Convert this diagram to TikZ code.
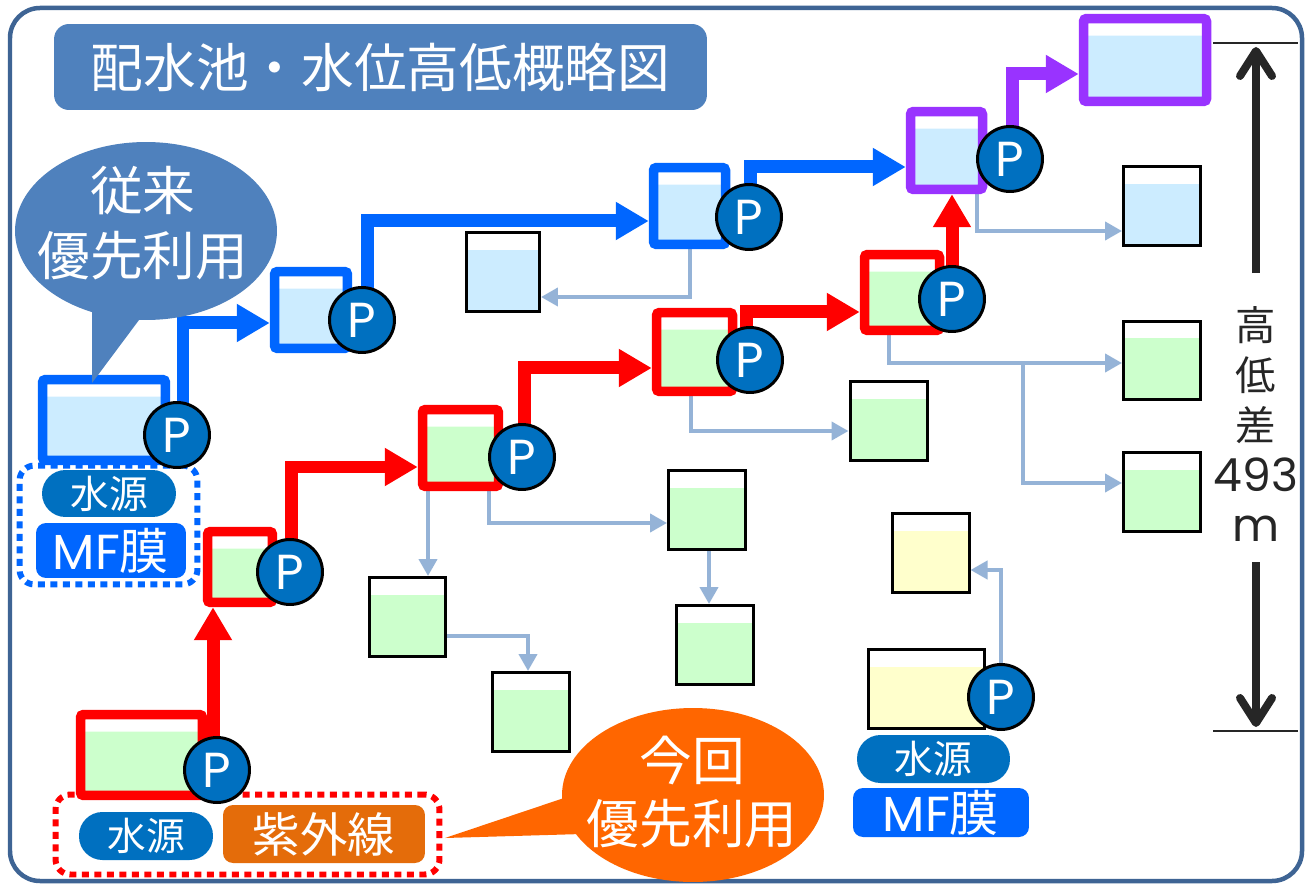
\documentclass[tikz,border=0pt]{standalone}
\usepackage{fontspec}
\setmainfont{Noto Sans CJK JP}
\newfontfamily\latf{Poppins}
\usetikzlibrary{arrows.meta,shapes.geometric}
\definecolor{frameC}{HTML}{3E6494}
\definecolor{titleC}{HTML}{4F81BD}
\definecolor{blueC}{HTML}{0066FF}
\definecolor{redC}{HTML}{FF0000}
\definecolor{purpC}{HTML}{9933FF}
\definecolor{pumpC}{HTML}{0070C0}
\definecolor{lbC}{HTML}{CCECFF}
\definecolor{lgC}{HTML}{CCFFCC}
\definecolor{lyC}{HTML}{FFFFCC}
\definecolor{thinC}{HTML}{95B3D7}
\definecolor{orC}{HTML}{FF6600}
\definecolor{uvC}{HTML}{E46C0A}
\definecolor{dimC}{HTML}{262626}
\pgfdeclarelayer{bg}
\pgfsetlayers{bg,main}
\begin{document}
\begin{tikzpicture}[x=0.02cm,y=-0.02cm,
  band/.style={path picture={\fill[white] (path picture bounding box.north west) rectangle ([yshift=-0.34cm]path picture bounding box.north east);}},
  bigtank/.style={draw=#1, line width=0.19cm, rounded corners=0.06cm, band, inner sep=0pt},
  smalltank/.style={draw=black, line width=0.06cm, band, inner sep=0pt, minimum width=1.54cm, minimum height=1.58cm},
  pump/.style={circle, fill=pumpC, draw=black, line width=0.06cm, minimum size=1.3cm, inner sep=0pt, text=white, font=\latf\fontsize{28}{28}\selectfont},
  fat/.style={line width=0.26cm, draw=#1, -{Triangle[length=0.66cm,width=0.72cm]}},
  slim/.style={draw=thinC, line width=0.08cm, -{Triangle[length=0.34cm,width=0.36cm]}},
  pill/.style={fill=pumpC, rounded corners=0.47cm, text=white, inner sep=0pt, font=\fontsize{22}{22}\selectfont},
  srcbox/.style={rounded corners=0.2cm, text=white, inner sep=0pt},
  dotbox/.style={draw=#1, line width=0.12cm, dash pattern=on 0.14cm off 0.11cm, rounded corners=0.3cm, inner sep=0pt},
  bubtext/.style={text=white, align=center},
  dimline/.style={draw=dimC, line width=0.04cm},
  dimarrow/.style={draw=dimC, line width=0.16cm, -{Straight Barb[length=0.5cm,width=0.64cm,round]}},
]
\useasboundingbox (0,0) rectangle (1308,885);
% frame
\draw[frameC, line width=0.09cm, rounded corners=0.6cm] (10,8) rectangle (1302,881);
% title
\node[fill=titleC, rounded corners=0.3cm, minimum width=13.06cm, minimum height=1.72cm, text=white, font=\fontsize{30}{36}\selectfont, inner sep=0pt] (title) at (380.5,67) {配水池・水位高低概略図};

% big tanks
\node[bigtank=blueC, fill=lbC, minimum width=2.46cm, minimum height=1.62cm] (B1) at (104,420) {};
\node[bigtank=blueC, fill=lbC, minimum width=1.46cm, minimum height=1.54cm] (B2) at (311,310) {};
\node[bigtank=blueC, fill=lbC, minimum width=1.44cm, minimum height=1.54cm] (B3) at (689.5,206) {};
\node[bigtank=purpC, fill=lbC, minimum width=1.44cm, minimum height=1.56cm] (P4) at (946.5,150.5) {};
\node[bigtank=purpC, fill=lbC, minimum width=2.46cm, minimum height=1.66cm] (TOP) at (1145,60) {};
\node[bigtank=redC, fill=lgC, minimum width=2.44cm, minimum height=1.62cm] (R0) at (141.5,755) {};
\node[bigtank=redC, fill=lgC, minimum width=1.30cm, minimum height=1.42cm] (R1) at (240,567) {};
\node[bigtank=redC, fill=lgC, minimum width=1.52cm, minimum height=1.54cm] (R2) at (460.5,448) {};
\node[bigtank=redC, fill=lgC, minimum width=1.52cm, minimum height=1.58cm] (R3) at (694.5,352) {};
\node[bigtank=redC, fill=lgC, minimum width=1.50cm, minimum height=1.52cm] (R4) at (902,292.5) {};

% small tanks
\node[smalltank, fill=lbC, minimum width=1.46cm] (TB1) at (503,272) {};
\node[smalltank, fill=lbC] (TB2) at (1162,206) {};
\node[smalltank, fill=lgC] (G1) at (888.5,421) {};
\node[smalltank, fill=lgC] (G2) at (1162,360.5) {};
\node[smalltank, fill=lgC] (G3) at (1162,492) {};
\node[smalltank, fill=lgC] (G4) at (407.5,617) {};
\node[smalltank, fill=lgC] (G5) at (531,712) {};
\node[smalltank, fill=lgC] (G6) at (707,510) {};
\node[smalltank, fill=lgC] (G7) at (714.5,645) {};
\node[smalltank, fill=lyC] (Y1) at (930.5,553) {};
\node[smalltank, fill=lyC, minimum width=2.32cm] (Y0) at (926.5,689) {};

% source labels
\node[dotbox=blueC, minimum width=3.56cm, minimum height=2.38cm] (bsrc) at (108.5,525) {};
\node[pill, minimum width=2.68cm, minimum height=0.94cm] (bw) at (109,493.5) {水源};
\node[srcbox, fill=blueC, minimum width=3.0cm, minimum height=1.1cm, font=\fontsize{28}{28}\selectfont] (bmf) at (111,550.5) {{\latf MF}膜};
\node[dotbox=redC, minimum width=7.68cm, minimum height=1.6cm] (rsrc) at (247.5,834.5) {};
\node[pill, minimum width=2.68cm, minimum height=0.96cm] (rw) at (146,836) {水源};
\node[srcbox, fill=uvC, minimum width=4.04cm, minimum height=1.16cm, font=\fontsize{27}{27}\selectfont] (ruv) at (324,834) {紫外線};
\node[pill, minimum width=3.06cm, minimum height=0.96cm] (yw) at (933.5,759) {水源};
\node[srcbox, fill=blueC, minimum width=3.52cm, minimum height=0.98cm, font=\fontsize{28}{28}\selectfont] (ymf) at (941,812.5) {{\latf MF}膜};

% bubbles
\node[ellipse, fill=titleC, minimum width=5.24cm, minimum height=3.56cm, inner sep=0pt] (bub1) at (146,231) {};
\fill[titleC] (92,300) -- (92,383) -- (142,316) -- cycle;
\node[bubtext, font=\fontsize{30}{37}\selectfont] (bub1t) at (143,223) {従来\\優先利用};
\node[ellipse, fill=orC, minimum width=5.24cm, minimum height=3.48cm, inner sep=0pt] (bub2) at (693,795) {};
\fill[orC] (570,796) -- (445,838) -- (582,834) -- cycle;
\node[bubtext, font=\fontsize{30}{36}\selectfont] (bub2t) at (692,792) {今回\\優先利用};

% pumps
\node[pump] (PB1) at (177,435) {P};
\node[pump] (PB2) at (362,320) {P};
\node[pump] (PB3) at (749,217) {P};
\node[pump] (PP4) at (1010,159) {P};
\node[pump] (PR0) at (217,770) {P};
\node[pump] (PR1) at (290,572) {P};
\node[pump] (PR2) at (522,457) {P};
\node[pump] (PR3) at (750,360) {P};
\node[pump] (PR4) at (952,299) {P};
\node[pump] (PY0) at (1001,697) {P};

% height difference
\node[align=center, font=\fontsize{23}{28.5}\selectfont, text=dimC] (hl) at (1256,424) {高\\低\\差\\{\latf\fontsize{26}{28.5}\selectfont 493}\\{\latf\fontsize{26}{28.5}\selectfont m}};
\coordinate (dtl) at (1213,43); \coordinate (dtr) at (1298,43);
\coordinate (dbl) at (1213,731); \coordinate (dbr) at (1298,731);
\coordinate (ua) at (1256,273); \coordinate (ub) at (1256,47);
\coordinate (da) at (1256,562); \coordinate (db) at (1256,727);
\draw[dimline] (dtl) -- (dtr);
\draw[dimline] (dbl) -- (dbr);
\draw[dimarrow] (ua) -- (ub);
\draw[dimarrow] (da) -- (db);

\begin{pgfonlayer}{bg}
\fill[white] (0,0) rectangle (1308,885);
\draw[fat=blueC] ([xshift=0.12cm]PB1.center) |- ([yshift=-0.26cm]B2.west);
\draw[fat=blueC] ([xshift=0.1cm]PB2.center) |- ([yshift=-0.3cm]B3.west);
\draw[fat=blueC] ([xshift=0.02cm]PB3.center) |- ([yshift=-0.33cm]P4.west);
\draw[fat=purpC] ([xshift=0.04cm]PP4.center) |- ([yshift=-0.28cm]TOP.west);
\draw[fat=redC] ([xshift=-0.08cm]PR0.center) -- ([xshift=-0.08cm]PR0.center |- R1.south);
\draw[fat=redC] ([xshift=0.02cm]PR1.center) |- ([yshift=-0.38cm]R2.west);
\draw[fat=redC] ([xshift=0.04cm]PR2.center) |- ([yshift=-0.32cm]R3.west);
\draw[fat=redC] ([xshift=-0.08cm]PR3.center) |- ([yshift=-0.39cm]R4.west);
\draw[fat=redC] (PR4.center) -- (PR4.center |- P4.south);
\coordinate (br) at (1023,363);
\draw[slim] (B3.south) |- ([yshift=-0.5cm]TB1.east);
\draw[slim] ([xshift=0.61cm]P4.south) |- ([yshift=-0.5cm]TB2.west);
\draw[slim] ([xshift=-0.07cm]R3.south) |- ([yshift=-0.2cm]G1.west);
\draw[slim] ([xshift=-0.26cm]R4.south) |- ([yshift=-0.05cm]G2.west);
\draw[slim] (br) |- ([yshift=0.18cm]G3.west);
\draw[slim] ([xshift=-0.65cm]R2.south) -- ([xshift=-0.65cm]R2.south |- G4.north);
\draw[slim] ([xshift=0.57cm]R2.south) |- ([yshift=-0.26cm]G6.west);
\draw[slim] ([xshift=0.04cm]G6.south) -- ([xshift=0.04cm]G6.south |- G7.north);
\draw[slim] ([yshift=-0.38cm]G4.east) -| ([xshift=-0.06cm]G5.north);
\draw[slim] (PY0.center) |- ([yshift=-0.34cm]Y1.east);
\end{pgfonlayer}
\end{tikzpicture}
\end{document}
